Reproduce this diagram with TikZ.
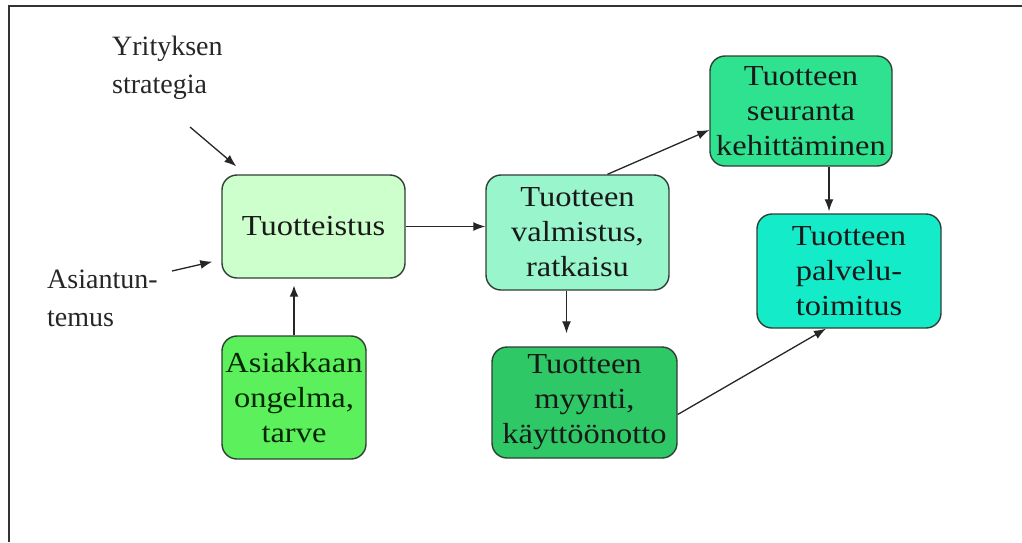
\documentclass[tikz,border=0pt]{standalone}
\usepackage{fontspec}
\setmainfont{Liberation Serif}
\newfontfamily\boxfont[FakeStretch=1.12]{Liberation Serif}
\usetikzlibrary{arrows.meta}
\definecolor{cA}{HTML}{CCFFCC}
\definecolor{cB}{HTML}{5CF05C}
\definecolor{cC}{HTML}{99F5CC}
\definecolor{cD}{HTML}{2EE290}
\definecolor{cE}{HTML}{14EBC8}
\definecolor{cF}{HTML}{2EC866}
\definecolor{edge}{HTML}{2F3F35}
\tikzset{
  box/.style={draw=edge, line width=1.4pt, rounded corners=15pt, align=center,
    inner sep=0pt, font=\boxfont\fontsize{29}{35}\selectfont, text=black!90},
  lbl/.style={anchor=north west, align=left, inner sep=0pt,
    font=\fontsize{28}{38}\selectfont, text=black!85},
  arr/.style={draw=black!85, line width=1.3pt, -{Latex[length=12pt,width=9pt]}},
}
\begin{document}
\begin{tikzpicture}[x=1pt,y=-1pt]
\useasboundingbox (0,0) rectangle (1022,542);
\draw[line width=2pt, black!80] (9,542) -- (9,6) -- (1022,6);
\node[box, fill=cA, minimum width=183pt, minimum height=103pt] (t) at (313.5,226.5) {Tuotteistus};
\node[box, fill=cB, minimum width=144pt, minimum height=123pt, text=black!75!green!60!black] (a) at (294,397.5) {Asiakkaan\\ongelma,\\tarve};
\node[box, fill=cC, minimum width=183pt, minimum height=115pt] (v) at (577.5,232.5) {Tuotteen\\valmistus,\\ratkaisu};
\node[box, fill=cD, minimum width=182pt, minimum height=110pt] (s) at (801,111) {Tuotteen\\seuranta\\kehittäminen};
\node[box, fill=cE, minimum width=184pt, minimum height=114pt] (p) at (849,271) {Tuotteen\\palvelu-\\toimitus};
\node[box, fill=cF, minimum width=185pt, minimum height=111pt] (m) at (584.5,402.5) {Tuotteen\\myynti,\\käyttöönotto};
\node[lbl] (ys) at (112,36) {Yrityksen\\strategia};
\node[lbl] (at) at (47,270) {Asiantun-\\temus};
\coordinate (ysa) at (190,127);
\coordinate (ata) at (172,271);
\draw[arr] (ysa) -- ([xshift=15pt,yshift=8pt]t.north west);
\draw[arr] (ata) -- ([xshift=-9pt,yshift=17pt]t.south west);
\draw[arr, line width=2.8pt] (a.north) -- (a.north |- t.south) [shorten >=6pt];
\draw[arr] (t.east) -- (t.east -| v.west);
\draw[arr] ([xshift=30pt]v.north) -- ([yshift=-19pt]s.west);
\draw[arr] ([xshift=-11pt]v.south) -- ([xshift=-18pt]m.north) [shorten >=13pt];
\draw[arr] ([xshift=28pt]s.south) -- ([xshift=-20pt]p.north) [shorten >=2pt];
\draw[arr] ([yshift=-12pt]m.east) -- ([xshift=-23pt]p.south);
\end{tikzpicture}
\end{document}
